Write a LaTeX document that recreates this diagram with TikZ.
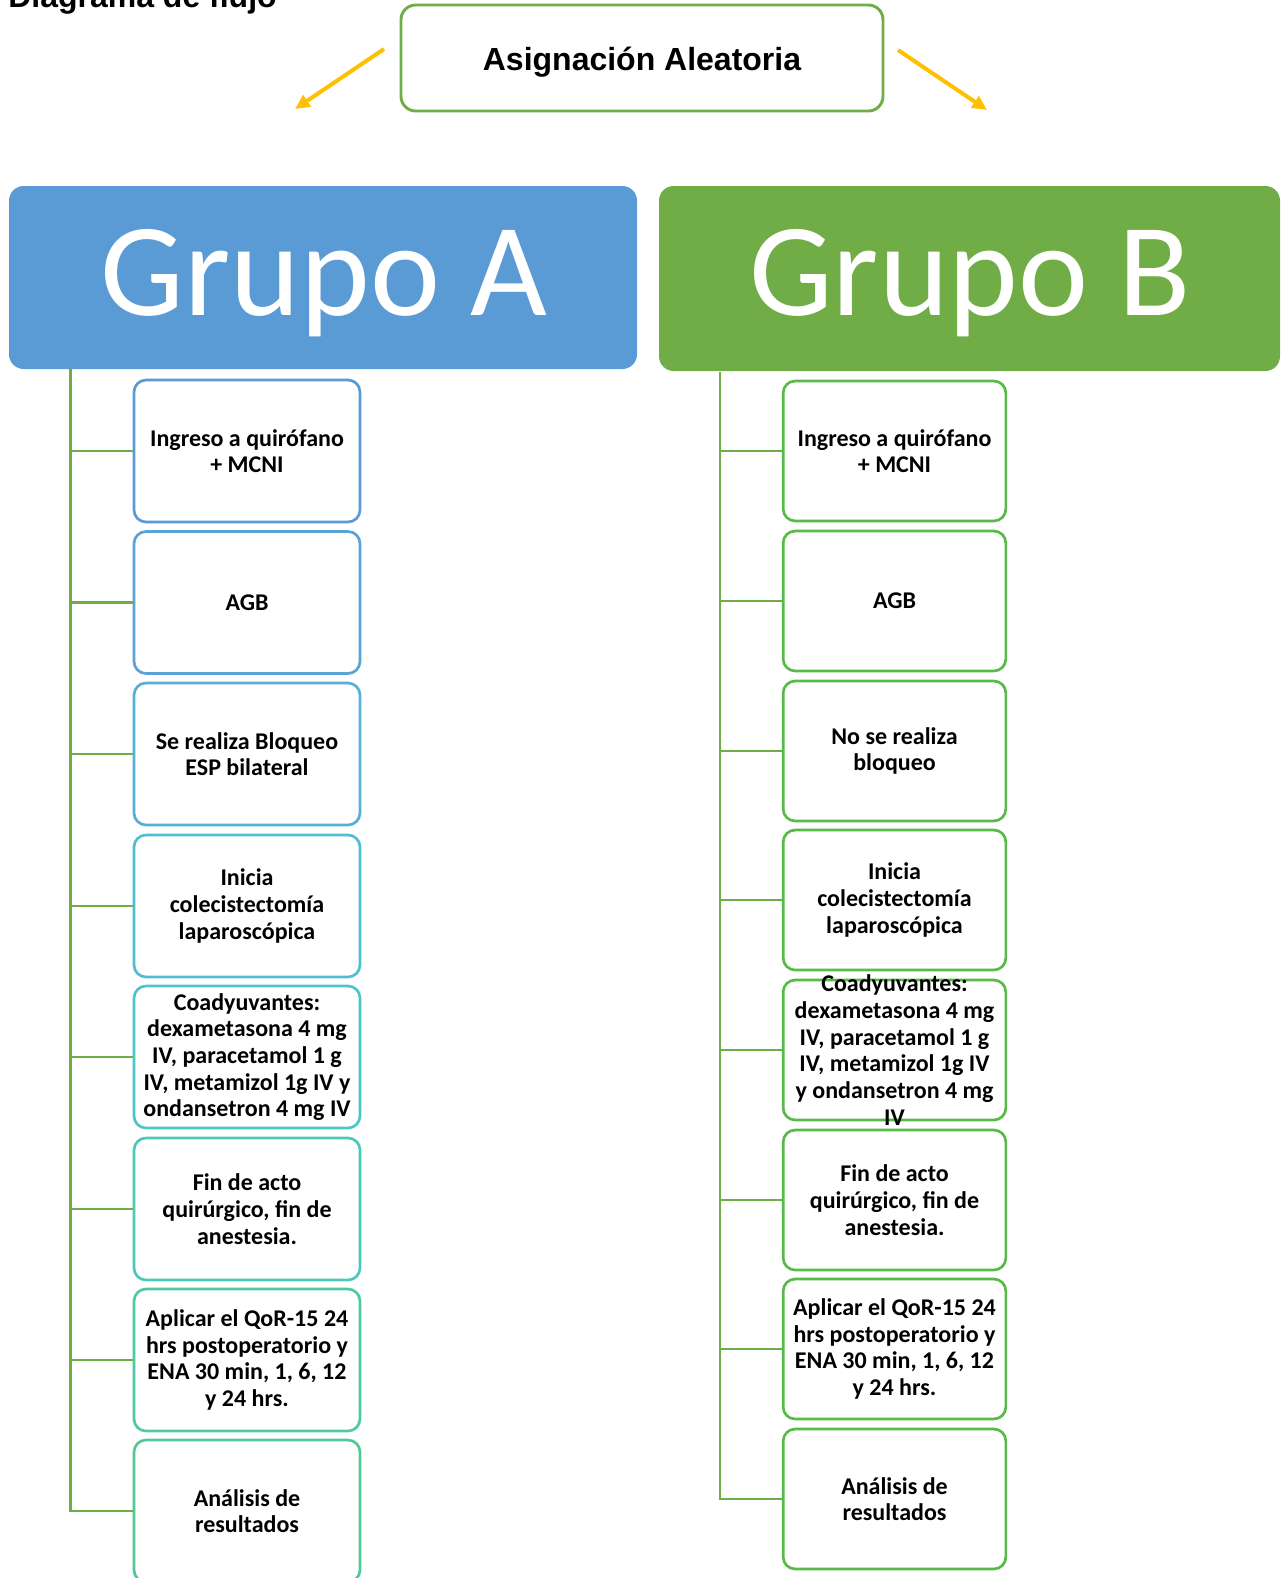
\documentclass[tikz,border=0pt]{standalone}
\usepackage{fontspec}
\setmainfont{Carlito}
\newfontfamily\arialfont{Liberation Sans}
\usetikzlibrary{arrows.meta}
\definecolor{gA}{RGB}{91,155,213}
\definecolor{gB}{RGB}{112,173,71}
\definecolor{gline}{RGB}{112,173,71}
\definecolor{rbox}{RGB}{88,186,72}
\definecolor{arr}{RGB}{255,192,0}
\definecolor{lc1}{RGB}{91,155,213}
\definecolor{lc2}{RGB}{90,163,214}
\definecolor{lc3}{RGB}{88,175,214}
\definecolor{lc4}{RGB}{80,190,210}
\definecolor{lc5}{RGB}{76,198,198}
\definecolor{lc6}{RGB}{78,200,184}
\definecolor{lc7}{RGB}{80,200,168}
\definecolor{lc8}{RGB}{82,200,150}
\tikzset{
  boxtext/.style={align=center, inner sep=2pt,
    font=\fontsize{18}{20}\selectfont\bfseries},
  stepbox/.style={boxtext, draw, line width=2pt, rounded corners=9pt, fill=white},
  lbox/.style={stepbox, minimum width=169.5pt, minimum height=106.5pt},
  rbox/.style={stepbox, draw=rbox, minimum width=167pt, minimum height=105pt},
  conn/.style={gline, line width=2.2pt},
  yarrow/.style={arr, line width=3pt, -{Triangle[length=11pt,width=10pt]}}
}
\begin{document}
\begin{tikzpicture}[x=0.75pt,y=-0.75pt]
\useasboundingbox (0,0) rectangle (1281,1578);
% title
\node[anchor=base west, inner sep=0pt, font=\arialfont\bfseries\fontsize{24}{28}\selectfont] (title) at (8,7) {Diagrama de flujo};
% random assignment
\node[draw=gline, line width=2.2pt, rounded corners=11pt, minimum width=361.5pt, minimum height=79.5pt] (asig) at (642,58) {};
\node[anchor=base, inner sep=0pt, font=\arialfont\bfseries\fontsize{24}{28}\selectfont] (asigt) at (642,70.5) {Asignación Aleatoria};
\coordinate (la0) at (384,49);
\coordinate (la1) at (295,109);
\coordinate (ra0) at (898,50);
\coordinate (ra1) at (987,110);
\draw[yarrow] (la0) -- (la1);
\draw[yarrow] (ra0) -- (ra1);
% group headers
\path[fill=gA, rounded corners=11pt] (9,186) rectangle (637,369);
\path[fill=gB, rounded corners=11pt] (659,186) rectangle (1280,371);
\node[anchor=base, inner sep=0pt, text=white, font=\fontsize{99.5}{110}\selectfont] (ga) at (324,315) {Grupo A};
\node[anchor=base, inner sep=0pt, text=white, font=\fontsize{99.5}{110}\selectfont] (gb) at (970,315) {Grupo B};
% left column
\node[lbox, draw=lc1] (a1) at (247,451) {Ingreso a quirófano\\+ MCNI};
\node[lbox, draw=lc2] (a2) at (247,602.5) {AGB};
\node[lbox, draw=lc3] (a3) at (247,754) {Se realiza Bloqueo\\ESP bilateral};
\node[lbox, draw=lc4] (a4) at (247,906) {Inicia\\colecistectomía\\laparoscópica};
\node[lbox, draw=lc5] (a5) at (247,1057) {Coadyuvantes:\\dexametasona 4 mg\\IV, paracetamol 1 g\\IV, metamizol 1g IV y\\ondansetron 4 mg IV};
\node[lbox, draw=lc6] (a6) at (247,1209) {Fin de acto\\quirúrgico, fin de\\anestesia.};
\node[lbox, draw=lc7] (a7) at (247,1360) {Aplicar el QoR-15 24\\hrs postoperatorio y\\ENA 30 min, 1, 6, 12\\y 24 hrs.};
\node[lbox, draw=lc8] (a8) at (247,1511) {Análisis de\\resultados};
\coordinate (lt) at (70.4,369);
\draw[conn] (lt) |- (a8.west);
\foreach \n in {a1,a2,a3,a4,a5,a6,a7}{\draw[conn] (\n.west -| lt) -- (\n.west);}
% right column
\node[rbox] (b1) at (894.5,451) {Ingreso a quirófano\\+ MCNI};
\node[rbox] (b2) at (894.5,601) {AGB};
\node[rbox] (b3) at (894.5,751) {No se realiza\\bloqueo};
\node[rbox] (b4) at (894.5,900) {Inicia\\colecistectomía\\laparoscópica};
\node[rbox] (b5) at (894.5,1050) {};
\node[boxtext] (b5t) at (b5.center) {Coadyuvantes:\\dexametasona 4 mg\\IV, paracetamol 1 g\\IV, metamizol 1g IV\\y ondansetron 4 mg\\IV};
\node[rbox] (b6) at (894.5,1200) {Fin de acto\\quirúrgico, fin de\\anestesia.};
\node[rbox] (b7) at (894.5,1349) {Aplicar el QoR-15 24\\hrs postoperatorio y\\ENA 30 min, 1, 6, 12\\y 24 hrs.};
\node[rbox] (b8) at (894.5,1499) {Análisis de\\resultados};
\coordinate (rt) at (720,372);
\draw[conn] (rt) |- (b8.west);
\foreach \n in {b1,b2,b3,b4,b5,b6,b7}{\draw[conn] (\n.west -| rt) -- (\n.west);}
\end{tikzpicture}
\end{document}
